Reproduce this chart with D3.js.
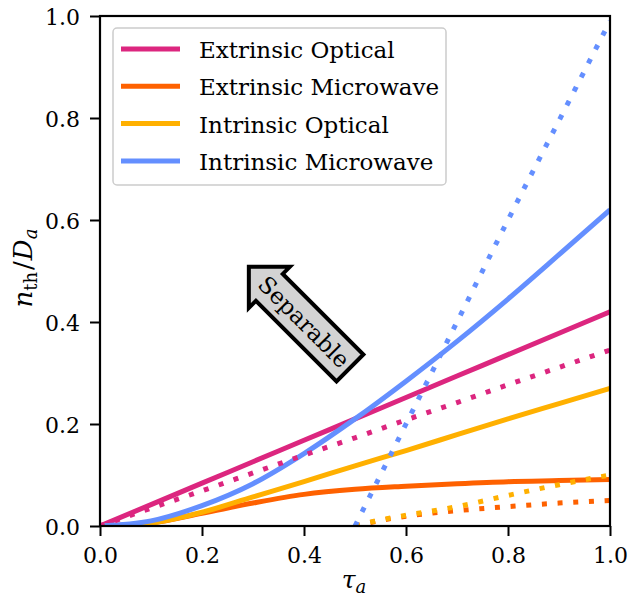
<!DOCTYPE html>
<html>
<head>
<meta charset="utf-8">
<script src="https://cdn.jsdelivr.net/npm/d3@7"></script>
<style>
  body { margin: 0; background: #fff; }
  svg text { font-family: "DejaVu Serif", serif; fill: #000; }
</style>
</head>
<body>
<svg id="chart"></svg>
<script>
// values
const tau = [0, 0.1, 0.2, 0.3, 0.4, 0.5, 0.6, 0.7, 0.8, 0.9, 1.0];
const tauTail = [0.5, 0.55, 0.6, 0.7, 0.8, 0.9, 1.0];

// solid curves
const extOptical   = [0, 0.042, 0.084, 0.126, 0.168, 0.21, 0.252, 0.294, 0.336, 0.378, 0.42];
const extMicrowave = [0, 0.006, 0.025, 0.045, 0.062, 0.072, 0.078, 0.083, 0.087, 0.089, 0.091];
const intOptical   = [0, 0.006, 0.027, 0.057, 0.087, 0.118, 0.148, 0.179, 0.21, 0.24, 0.27];
const intMicrowave = [0, 0.01, 0.04, 0.083, 0.142, 0.21, 0.284, 0.362, 0.445, 0.532, 0.62];

// dotted curves
const extOpticalDot   = [0, 0.035, 0.069, 0.104, 0.139, 0.173, 0.208, 0.242, 0.277, 0.311, 0.345];
const extMicrowaveDot = [0, 0.011, 0.019, 0.03, 0.038, 0.045, 0.05];
const intOpticalDot   = [0, 0.012, 0.021, 0.038, 0.06, 0.081, 0.1];
const intMicrowaveDot = [0, 0.1, 0.2, 0.4, 0.6, 0.795, 0.99];

const labels = ["Extrinsic Optical", "Extrinsic Microwave", "Intrinsic Optical", "Intrinsic Microwave"];
const colors = ["#dc267f", "#fe6100", "#ffb000", "#648fff"];
const xTicks = [0, 0.2, 0.4, 0.6, 0.8, 1.0];
const yTicks = [0, 0.2, 0.4, 0.6, 0.8, 1.0];
const arrowText = "Separable";
const arrowAt = [0.4, 0.4];

const W = 628, H = 597;
const margin = {left: 100, right: 18, top: 16, bottom: 71};
const FONT = "'DejaVu Serif', serif";

const svg = d3.select("#chart").attr("width", W).attr("height", H);

const x = d3.scaleLinear().domain([0, 1]).range([margin.left, W - margin.right]);
const y = d3.scaleLinear().domain([0, 1]).range([H - margin.bottom, margin.top]);

// clip to the axes box
svg.append("clipPath").attr("id", "plotClip")
  .append("rect")
  .attr("x", x(0)).attr("y", y(1))
  .attr("width", x(1) - x(0)).attr("height", y(0) - y(1));

const solids = [
  {xs: tau, ys: extOptical, c: 0},
  {xs: tau, ys: extMicrowave, c: 1},
  {xs: tau, ys: intOptical, c: 2},
  {xs: tau, ys: intMicrowave, c: 3}
];
const dots = [
  {xs: tau, ys: extOpticalDot, c: 0},
  {xs: tauTail, ys: extMicrowaveDot, c: 1},
  {xs: tauTail, ys: intOpticalDot, c: 2},
  {xs: tauTail, ys: intMicrowaveDot, c: 3}
];

const line = d3.line()
  .x(d => x(d[0]))
  .y(d => y(d[1]))
  .curve(d3.curveMonotoneX);

const plot = svg.append("g").attr("clip-path", "url(#plotClip)");

plot.selectAll(".solid")
  .data(solids)
  .enter()
  .append("path")
  .attr("class", "solid")
  .attr("fill", "none")
  .attr("stroke", s => colors[s.c])
  .attr("stroke-width", 5)
  .attr("d", s => line(d3.zip(s.xs, s.ys)));

plot.selectAll(".dotted")
  .data(dots)
  .enter()
  .append("path")
  .attr("class", "dotted")
  .attr("fill", "none")
  .attr("stroke", s => colors[s.c])
  .attr("stroke-width", 5)
  .attr("stroke-dasharray", "5,10.7")
  .attr("d", s => line(d3.zip(s.xs, s.ys)));

// axes
const xAxis = d3.axisBottom(x).tickValues(xTicks).tickFormat(d3.format(".1f")).tickSize(10);
const gx = svg.append("g")
  .attr("transform", "translate(0," + y(0) + ")")
  .call(xAxis)
  .attr("font-family", FONT);
gx.select(".domain").remove();
gx.selectAll("line").attr("stroke", "#000").attr("stroke-width", 2);
gx.selectAll("text")
  .attr("y", 37).attr("dy", null)
  .style("font-size", "22px");

const yAxis = d3.axisLeft(y).tickValues(yTicks).tickFormat(d3.format(".1f")).tickSize(10);
const gy = svg.append("g")
  .attr("transform", "translate(" + x(0) + ",0)")
  .call(yAxis)
  .attr("font-family", FONT);
gy.select(".domain").remove();
gy.selectAll("line").attr("stroke", "#000").attr("stroke-width", 2);
gy.selectAll("text")
  .attr("x", -20).attr("dy", "8px")
  .style("font-size", "22px");

// frame
svg.append("rect")
  .attr("x", x(0)).attr("y", y(1))
  .attr("width", x(1) - x(0)).attr("height", y(0) - y(1))
  .attr("fill", "none").attr("stroke", "#000").attr("stroke-width", 2.2);

// axis labels
const xl = svg.append("text")
  .attr("x", (x(0) + x(1)) / 2 - 1)
  .attr("y", 588)
  .attr("text-anchor", "middle");
xl.append("tspan").attr("font-style", "italic").attr("font-size", 25).text("τ");
xl.append("tspan").attr("font-style", "italic").attr("font-size", 18).attr("dy", 5).text("a");

const yl = svg.append("text")
  .attr("transform", "translate(32," + ((y(0) + y(1)) / 2 - 3) + ") rotate(-90)")
  .attr("text-anchor", "middle");
yl.append("tspan").attr("font-style", "italic").attr("font-size", 26).text("n");
yl.append("tspan").attr("font-size", 18).attr("dy", 5).text("th");
yl.append("tspan").attr("font-size", 26).attr("dy", -5).attr("dx", 2).text("/");
yl.append("tspan").attr("font-style", "italic").attr("font-size", 26).attr("dx", 1).text("D");
yl.append("tspan").attr("font-style", "italic").attr("font-size", 18).attr("dy", 5).text("a");

// legend
const leg = svg.append("g").attr("transform", "translate(" + (x(0) + 13) + "," + (y(1) + 12) + ")");
leg.append("rect")
  .attr("width", 333).attr("height", 157).attr("rx", 4)
  .attr("fill", "#fff").attr("fill-opacity", 0.8)
  .attr("stroke", "#cccccc").attr("stroke-width", 1.5);

const rows = leg.selectAll(".row")
  .data(labels)
  .enter()
  .append("g")
  .attr("class", "row")
  .attr("transform", (d, i) => "translate(0," + (21 + i * 37.3) + ")");
rows.append("line")
  .attr("x1", 8).attr("x2", 67)
  .attr("stroke", (d, i) => colors[i])
  .attr("stroke-width", 5);
rows.append("text")
  .attr("x", 86).attr("y", 9)
  .style("font-size", "23px")
  .text(d => d);

// "Separable" arrow
const arr = svg.append("g")
  .attr("transform", "translate(" + x(arrowAt[0]) + "," + y(arrowAt[1]) + ") rotate(45)");
arr.append("path")
  .attr("d", "M-78,0 L-49,-29 L-49,-19 L65,-19 L65,19 L-49,19 L-49,29 Z")
  .attr("fill", "#d3d3d3")
  .attr("stroke", "#000")
  .attr("stroke-width", 4)
  .attr("stroke-linejoin", "miter");
arr.append("text")
  .attr("text-anchor", "middle")
  .attr("y", 8)
  .style("font-size", "23px")
  .text(arrowText);
</script>
</body>
</html>
